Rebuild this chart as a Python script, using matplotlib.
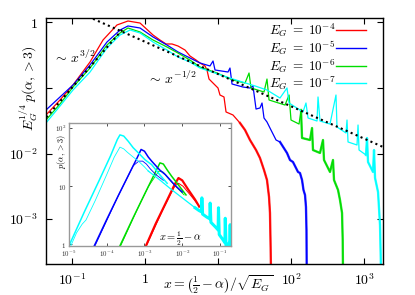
import numpy as np
import matplotlib
matplotlib.use("Agg")
import matplotlib.pyplot as plt
from matplotlib.ticker import FixedLocator, FixedFormatter, NullLocator

plt.rcParams['mathtext.fontset'] = 'cm'
plt.rcParams['font.family'] = 'serif'
plt.rcParams['font.serif'] = ['DejaVu Serif']

# ---------------- data (log10 of values) ----------------
labels = [r'$E_G\;=\;10^{-4}$', r'$E_G\;=\;10^{-5}$', r'$E_G\;=\;10^{-6}$', r'$E_G\;=\;10^{-7}$']
colors = ['#ff0000', '#0000ff', '#00dd00', '#00ffff']

red_lx = [-1.356,-1.164,-0.986,-0.753,-0.575,-0.384,-0.233,-0.068,0.110,0.205,0.288,0.370,0.452,0.548,0.616,0.699,0.753,0.822,0.849,0.877,0.945,1.000,1.027,1.082,1.110,1.205,1.301,1.370,1.438,1.521,1.575,1.630,1.671,1.699,1.712,1.719,1.726]
red_ly = [-1.412,-1.183,-0.954,-0.603,-0.267,-0.038,0.023,-0.008,-0.191,-0.267,-0.328,-0.328,-0.359,-0.420,-0.511,-0.573,-0.618,-0.664,-0.725,-0.863,-0.939,-1.000,-1.107,-1.137,-1.366,-1.412,-1.534,-1.641,-1.794,-1.947,-2.069,-2.252,-2.405,-2.664,-2.908,-3.321,-3.8]

blue_lx = [-1.356,-1.164,-0.986,-0.753,-0.521,-0.342,-0.233,-0.068,0.110,0.301,0.452,0.616,0.753,0.890,0.932,0.959,1.137,1.164,1.192,1.342,1.438,1.479,1.521,1.575,1.603,1.630,1.671,1.712,1.795,1.849,1.945,1.986,2.027,2.096,2.123,2.151,2.171,2.192,2.205,2.212,2.215]
blue_ly = [-1.336,-1.137,-0.954,-0.649,-0.298,-0.115,-0.053,-0.084,-0.221,-0.344,-0.450,-0.542,-0.618,-0.664,-0.588,-0.725,-0.756,-0.695,-0.939,-0.985,-1.000,-0.969,-1.321,-1.305,-1.229,-1.458,-1.519,-1.611,-1.794,-1.824,-1.992,-2.099,-2.130,-2.282,-2.298,-2.405,-2.557,-2.634,-2.817,-3.168,-3.8]

green_lx = [-1.356,-1.164,-0.986,-0.753,-0.521,-0.342,-0.233,-0.068,0.110,0.301,0.452,0.616,0.753,0.986,1.205,1.370,1.425,1.452,1.630,1.671,1.699,1.918,1.973,2.000,2.110,2.137,2.151,2.260,2.288,2.301,2.397,2.438,2.452,2.534,2.575,2.589,2.644,2.671,2.699,2.708,2.712]
green_ly = [-1.489,-1.244,-0.985,-0.695,-0.344,-0.160,-0.084,-0.145,-0.267,-0.374,-0.466,-0.573,-0.679,-0.771,-0.878,-0.924,-0.771,-1.000,-1.061,-0.863,-1.183,-1.260,-1.107,-1.489,-1.550,-1.336,-1.763,-1.794,-1.611,-1.947,-1.992,-1.794,-2.099,-2.282,-2.099,-2.405,-2.557,-2.710,-2.908,-3.321,-3.8]

cyan_lx = [-1.356,-1.164,-0.986,-0.753,-0.521,-0.342,-0.205,-0.068,0.110,0.301,0.452,0.616,0.753,1.205,1.507,1.671,1.849,1.945,1.973,2.164,2.205,2.233,2.356,2.370,2.397,2.534,2.616,2.630,2.753,2.767,2.781,2.904,2.918,2.932,3.027,3.041,3.055,3.123,3.137,3.151,3.192,3.219,3.233]
cyan_ly = [-1.534,-1.275,-1.031,-0.756,-0.389,-0.191,-0.115,-0.160,-0.298,-0.420,-0.527,-0.603,-0.695,-0.863,-0.969,-1.031,-1.153,-1.000,-1.229,-1.366,-1.229,-1.458,-1.504,-1.137,-1.504,-1.550,-1.107,-1.595,-1.687,-1.489,-1.824,-1.870,-1.565,-1.947,-2.023,-1.763,-2.130,-2.282,-1.947,-2.374,-2.588,-3.092,-3.8]

# guide lines ~x^{3/2} and ~x^{-1/2} (end points)
g32_lx = [-1.40, -0.30]
g32_ly = [-1.51, -0.095]
g12_lx = [-0.78, 3.26]
g12_ly = [0.09, -1.90]

# inset: p(alpha,>3) vs 1/2 - alpha (log10 values)
in_cyan_a_lx = [-5.02,-4.6,-4.2,-3.9,-3.72,-3.65,-3.55,-3.43,-3.3,-3.16,-2.98,-2.81,-2.6,-2.4]
in_cyan_a_lp = [-0.05,0.55,1.1,1.52,1.8,1.88,1.86,1.77,1.66,1.57,1.45,1.37,1.2,1.05]
in_cyan_b_lx = [-4.97,-4.8,-4.65,-4.55,-4.3,-4.0,-3.8,-3.65,-3.55,-3.45,-3.3,-3.16,-3.0,-2.9]
in_cyan_b_lp = [-0.05,0.2,0.35,0.42,0.76,1.2,1.5,1.67,1.64,1.58,1.5,1.43,1.33,1.26]
in_blue_a_lx = [-4.35,-4.0,-3.7,-3.4,-3.2,-3.09,-3.0,-2.9,-2.81,-2.6,-2.45,-2.2,-2.0]
in_blue_a_lp = [-0.05,0.43,0.83,1.22,1.48,1.63,1.6,1.5,1.43,1.28,1.2,1.02,0.9]
in_blue_b_lx = [-4.33,-3.7,-3.3,-3.15,-3.05,-2.95,-2.85,-2.7,-2.5]
in_blue_b_lp = [-0.05,0.83,1.35,1.43,1.43,1.38,1.3,1.2,1.1]
in_green_a_lx = [-3.67,-3.3,-3.0,-2.75,-2.59,-2.5,-2.4,-2.28,-2.1,-1.9]
in_green_a_lp = [-0.05,0.46,0.86,1.19,1.40,1.38,1.28,1.17,1.02,0.85]
in_green_b_lx = [-3.65,-3.2,-2.9,-2.62,-2.5,-2.35,-2.15,-1.95]
in_green_b_lp = [-0.05,0.59,0.99,1.26,1.24,1.12,0.98,0.85]
in_red_a_lx = [-2.98,-2.7,-2.4,-2.2,-2.1,-2.0,-1.84,-1.66,-1.55]
in_red_a_lp = [-0.05,0.36,0.76,1.03,1.14,1.1,0.94,0.77,0.65]
in_red_b_lx = [-2.97,-2.5,-2.2,-2.1,-1.98,-1.8,-1.6]
in_red_b_lp = [-0.05,0.62,1.0,1.05,1.0,0.86,0.7]
in_tail_lx = [-2.9,-2.6,-2.3,-2.0,-1.8,-1.66,-1.55,-1.49,-1.48,-1.46,-1.35,-1.27,-1.26,-1.24,-1.12,-1.05,-1.04,-1.02,-0.92,-0.87,-0.86,-0.84,-0.78,-0.74,-0.73,-0.72]
in_tail_lp = [1.26,1.11,0.95,0.80,0.70,0.63,0.58,0.56,0.80,0.52,0.47,0.44,0.71,0.38,0.30,0.25,0.63,0.17,0.08,0.03,0.45,-0.02,0.0,0.05,0.34,-0.05]

# ---------------- figure ----------------
W, H = 415, 295
fig = plt.figure(figsize=(W/100, H/100), dpi=100)
ax = fig.add_axes([46/W, 1-264/H, 337/W, 246/H])
ax.set_xscale('log'); ax.set_yscale('log')
ax.set_xlim(10**-1.356, 10**3.26)
ax.set_ylim(10**-3.687, 10**0.0687)

main = [(red_lx, red_ly, 1.30), (blue_lx, blue_ly, 1.80),
        (green_lx, green_ly, 2.13), (cyan_lx, cyan_ly, 3.0)]
for (lx, ly, noisy), c, lab in zip(main, colors, labels):
    x = 10**np.array(lx); y = 10**np.array(ly)
    ax.plot(x, y, color=c, lw=0.9, label=lab, zorder=2)
    m = np.array(lx) >= noisy
    ax.plot(x[m], y[m], color=c, lw=1.7, alpha=0.8, zorder=2)

dot = dict(color='black', lw=1.5, linestyle=(0, (1, 1.6)), zorder=5)
ax.plot(10**np.array(g32_lx), 10**np.array(g32_ly), **dot)
ax.plot(10**np.array(g12_lx), 10**np.array(g12_ly), **dot)

ax.xaxis.set_major_locator(FixedLocator([0.1, 1, 10, 100, 1000]))
ax.xaxis.set_major_formatter(FixedFormatter([r'$10^{-1}$', r'$1$', '', r'$10^{2}$', r'$10^{3}$']))
ax.yaxis.set_major_locator(FixedLocator([1e-3, 1e-2, 1e-1, 1]))
ax.yaxis.set_major_formatter(FixedFormatter([r'$10^{-3}$', r'$10^{-2}$', '', r'$1$']))
ax.xaxis.set_minor_locator(NullLocator()); ax.yaxis.set_minor_locator(NullLocator())
ax.tick_params(which='both', direction='in', top=True, right=True, length=4, width=0.8, labelsize=10)
ax.tick_params(axis='x', pad=6)
ax.tick_params(axis='y', pad=6)
for s in ax.spines.values():
    s.set_linewidth(1.0)

ax.set_xlabel(r'$x = \left(\frac{1}{2}-\alpha\right)/\sqrt{E_G}$', fontsize=10)
ax.xaxis.label.set_va('center')
ax.xaxis.set_label_coords(0.51, -0.085)
ax.set_ylabel(r'$E_G^{1/4}\,p(\alpha,>3)$', fontsize=10)
ax.yaxis.label.set_va('center')
ax.yaxis.set_label_coords(-0.05, 0.715)

ax.text(0.02, 0.84, r'$\sim\, x^{3/2}$', transform=ax.transAxes, fontsize=10, va='center', ha='left')
ax.text(0.30, 0.755, r'$\sim\, x^{-1/2}$', transform=ax.transAxes, fontsize=10, va='center', ha='left')

leg = ax.legend(loc='upper right', bbox_to_anchor=(0.95, 0.985), frameon=False, markerfirst=False,
                fontsize=9.5, handlelength=2.3, handletextpad=0.05, labelspacing=-0.02,
                borderpad=0, borderaxespad=0)
for h in leg.legend_handles:
    h.set_linewidth(1.0)

# ---------------- inset ----------------
axi = fig.add_axes([69/W, 1-246/H, 161.7/W, 123/H])
axi.set_facecolor('white')
axi.set_xscale('log'); axi.set_yscale('log')
axi.set_xlim(1e-5, 10**-0.716)
axi.set_ylim(10**-0.026, 10**2.084)

inset = [(in_red_a_lx, in_red_a_lp, '#ff0000', 1.6), (in_red_b_lx, in_red_b_lp, '#ff0000', 0.7),
         (in_green_a_lx, in_green_a_lp, '#00dd00', 1.1), (in_green_b_lx, in_green_b_lp, '#00dd00', 0.6),
         (in_blue_a_lx, in_blue_a_lp, '#0000ff', 1.1), (in_blue_b_lx, in_blue_b_lp, '#0000ff', 0.6),
         (in_cyan_a_lx, in_cyan_a_lp, '#00ffff', 1.1), (in_cyan_b_lx, in_cyan_b_lp, '#00ffff', 0.6)]
for lx, lp, c, lw in inset:
    axi.plot(10**np.array(lx), 10**np.array(lp), color=c, lw=lw)
tx = 10**np.array(in_tail_lx); tp = 10**np.array(in_tail_lp)
axi.plot(tx, tp, color='#00ffff', lw=0.9)
mt = np.array(in_tail_lx) >= -1.75
axi.plot(tx[mt], tp[mt], color='#00ffff', lw=2.2)

axi.xaxis.set_major_locator(FixedLocator([1e-5, 1e-4, 1e-3, 1e-2, 1e-1]))
axi.xaxis.set_major_formatter(FixedFormatter([r'$10^{-5}$', r'$10^{-4}$', r'$10^{-3}$', r'$10^{-2}$', r'$10^{-1}$']))
axi.yaxis.set_major_locator(FixedLocator([1, 10, 100]))
axi.yaxis.set_major_formatter(FixedFormatter([r'$1$', r'$10$', r'$10^{2}$']))
axi.xaxis.set_minor_locator(NullLocator()); axi.yaxis.set_minor_locator(NullLocator())
axi.tick_params(which='both', direction='in', top=True, right=True, length=2.5, width=0.6,
                labelsize=5, pad=2, colors='#333333')
for s in axi.spines.values():
    s.set_color('#999999'); s.set_linewidth(1.0)
axi.set_ylabel(r'$p(\alpha,>3)$', fontsize=6)
axi.yaxis.label.set_va('center')
axi.yaxis.set_label_coords(-0.045, 0.77)
axi.text(0.69, 0.06, r'$x = \frac{1}{2} - \alpha$', transform=axi.transAxes, fontsize=7.5,
         ha='center', va='center')

fig.savefig('out.png', dpi=100)
